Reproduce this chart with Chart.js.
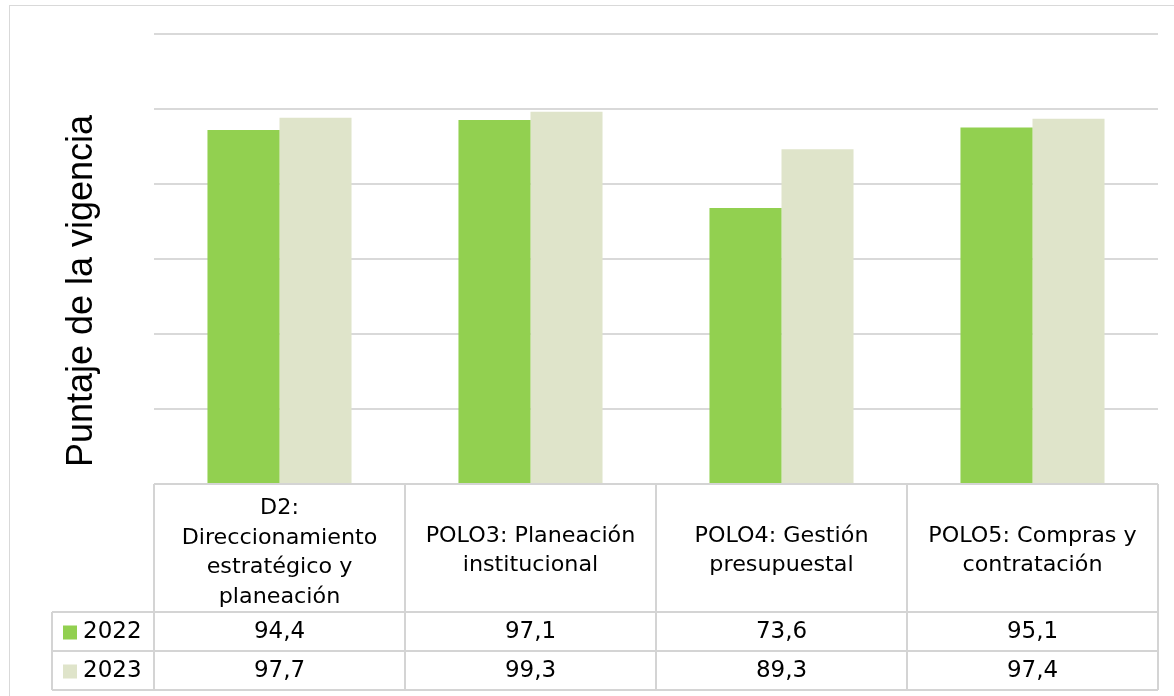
<!DOCTYPE html>
<html>
<head>
<meta charset="utf-8">
<script src="https://cdn.jsdelivr.net/npm/chart.js@4.4.0/dist/chart.umd.min.js"></script>
<style>
  html, body { margin: 0; padding: 0; background: #fff; }
  #wrap { width: 1174px; height: 696px; position: relative; }
</style>
</head>
<body>
<div id="wrap"><canvas id="grafico"></canvas></div>
<script>
// datos
var categorias = [
  ['D2:', 'Direccionamiento', 'estratégico y', 'planeación'],
  ['POLO3: Planeación', 'institucional'],
  ['POLO4: Gestión', 'presupuestal'],
  ['POLO5: Compras y', 'contratación']
];
var series = ['2022', '2023'];
var valores2022 = [94.4, 97.1, 73.6, 95.1];
var valores2023 = [97.7, 99.3, 89.3, 97.4];
var colores = ['#92D050', '#DFE4CA'];

function coma(v) {
  return v.toFixed(1).replace('.', ',');
}

var fuenteTabla = '"DejaVu Sans", "Noto Sans", sans-serif';

// texto algo mas ancho, como la fuente del original
function textoAncho(ctx, txt, x, y, esc) {
  ctx.save();
  ctx.translate(x, y);
  ctx.scale(esc, 1);
  ctx.fillText(txt, 0, 0);
  ctx.restore();
}

var tablaPlugin = {
  id: 'tablaDatos',
  afterDraw: function(chart) {
    var ctx = chart.ctx;
    var x = chart.scales.x;
    var area = chart.chartArea;
    var n = categorias.length;
    var paso = (area.right - area.left) / n;
    var filaTop = area.bottom;
    var filaCab = area.bottom + 128;
    var alto = 39;
    var izq = 52;

    ctx.save();
    // marco exterior
    ctx.strokeStyle = '#D9D9D9';
    ctx.lineWidth = 1;
    ctx.strokeRect(9.5, 5.5, 1200, 800);

    // lineas de la tabla
    ctx.strokeStyle = '#D4D4D4';
    ctx.lineWidth = 2;
    ctx.beginPath();
    ctx.moveTo(area.left, filaTop); ctx.lineTo(area.right, filaTop);
    for (var r = 0; r < 3; r++) {
      var yy = filaCab + r * alto;
      ctx.moveTo(izq, yy); ctx.lineTo(area.right, yy);
    }
    for (var c = 0; c <= n; c++) {
      var xx = area.left + c * paso;
      ctx.moveTo(xx, filaTop); ctx.lineTo(xx, filaCab + 2 * alto);
    }
    ctx.moveTo(izq, filaCab); ctx.lineTo(izq, filaCab + 2 * alto);
    ctx.stroke();

    ctx.fillStyle = '#000';
    ctx.textAlign = 'center';
    ctx.textBaseline = 'middle';
    // cabeceras
    ctx.font = '21px ' + fuenteTabla;
    for (var i = 0; i < n; i++) {
      var cx = x.getPixelForValue(i);
      var lineas = categorias[i];
      var lh = 29.5;
      var cy = (filaTop + filaCab) / 2 + 3 - (lineas.length - 1) * lh / 2;
      if (i === 0) cy += 2;
      for (var k = 0; k < lineas.length; k++) {
        textoAncho(ctx, lineas[k], cx, cy + k * lh, 1.06);
      }
    }
    // filas de valores
    var datos = [valores2022, valores2023];
    ctx.font = '23px ' + fuenteTabla;
    for (var s = 0; s < series.length; s++) {
      var ry = filaCab + s * alto + alto / 2 + 1;
      ctx.fillStyle = colores[s];
      ctx.fillRect(63, ry - 7, 14, 14);
      ctx.fillStyle = '#000';
      ctx.textAlign = 'left';
      ctx.fillText(series[s], 83, ry);
      ctx.textAlign = 'center';
      for (var j = 0; j < n; j++) {
        ctx.fillText(coma(datos[s][j]), x.getPixelForValue(j), ry);
      }
    }

    // titulo del eje
    ctx.translate(82, 291);
    ctx.rotate(-Math.PI / 2);
    ctx.font = '36px "Liberation Sans", Arial, sans-serif';
    ctx.fillText('Puntaje de la vigencia', 0, 0);
    ctx.restore();
  }
};

var ctx = document.getElementById('grafico').getContext('2d');
var grafico = new Chart(ctx, {
  type: 'bar',
  data: {
    labels: categorias,
    datasets: [{
      label: series[0],
      data: valores2022,
      backgroundColor: colores[0]
    }, {
      label: series[1],
      data: valores2023,
      backgroundColor: colores[1]
    }]
  },
  options: {
    responsive: true,
    maintainAspectRatio: false,
    animation: false,
    categoryPercentage: 0.574,
    barPercentage: 1,
    layout: {
      padding: { left: 154, top: 34, right: 16, bottom: 212 }
    },
    plugins: {
      legend: { display: false },
      tooltip: { enabled: false }
    },
    scales: {
      x: {
        display: false
      },
      y: {
        min: 0,
        max: 120,
        ticks: { stepSize: 20, display: false },
        grid: { color: '#D9D9D9', lineWidth: 2, drawTicks: false },
        border: { display: false }
      }
    }
  },
  plugins: [tablaPlugin]
});
</script>
</body>
</html>
